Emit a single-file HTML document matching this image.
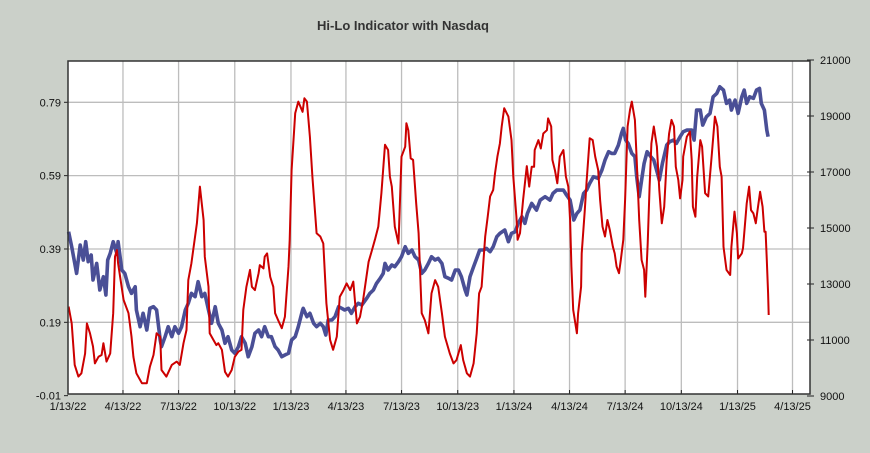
<!DOCTYPE html>
<html><head><meta charset="utf-8"><style>
html,body{margin:0;padding:0;background:#cbd0c9;}
svg{display:block;font-family:"Liberation Sans",sans-serif;}
</style></head><body>
<svg id="chart" width="870" height="453" viewBox="0 0 870 453" xmlns="http://www.w3.org/2000/svg">
<rect x="0" y="0" width="870" height="453" fill="#cbd0c9"/>
<text x="403" y="30" text-anchor="middle" font-size="13" font-weight="bold" fill="#333">Hi-Lo Indicator with Nasdaq</text>
<rect x="68" y="61" width="742" height="333" fill="#fff"/>
<g id="grid"></g><g id="series"></g><g id="axes"></g>
</svg>
<script>
const xTickLabels=["1/13/22","4/13/22","7/13/22","10/13/22","1/13/23","4/13/23","7/13/23","10/13/23","1/13/24","4/13/24","7/13/24","10/13/24","1/13/25","4/13/25"];
const xTickDays=[0,90,181,273,365,455,546,638,730,821,912,1004,1096,1186];
const leftTicks=[-0.01,0.19,0.39,0.59,0.79];
const rightTicks=[9000,11000,13000,15000,17000,19000,21000];
const redDays=[1,6,11,17,22,28,31,36,41,44,50,55,58,63,69,74,77,80,82,91,99,104,107,112,121,129,134,140,145,151,153,161,170,178,183,189,194,197,202,205,211,216,222,224,230,232,238,243,246,252,257,262,268,273,279,284,287,292,298,301,306,312,314,320,322,326,331,336,339,344,350,355,361,363,366,372,377,384,387,391,396,400,407,413,418,423,429,434,440,445,451,456,462,467,473,478,483,492,497,503,508,513,519,524,527,530,535,541,546,552,554,557,561,565,570,574,579,584,590,595,601,606,612,617,625,631,636,643,647,653,658,664,669,673,677,683,687,691,696,699,703,707,710,714,721,726,729,734,736,740,745,751,755,759,763,764,770,774,778,784,786,791,793,797,801,805,811,815,819,822,824,827,833,835,840,841,846,849,854,859,863,868,871,875,879,883,887,892,895,898,902,905,909,912,916,920,923,928,931,935,939,943,945,949,952,955,959,964,968,972,976,980,984,988,992,995,999,1002,1006,1007,1013,1018,1021,1023,1027,1030,1035,1038,1043,1048,1054,1059,1063,1067,1070,1073,1078,1084,1086,1091,1095,1097,1103,1105,1111,1115,1118,1122,1126,1128,1133,1137,1140,1142,1144,1146,1147];
const redValues=[0.233,0.187,0.074,0.042,0.051,0.105,0.187,0.160,0.124,0.078,0.096,0.101,0.133,0.083,0.105,0.215,0.369,0.387,0.351,0.251,0.215,0.151,0.096,0.051,0.024,0.024,0.069,0.101,0.160,0.151,0.060,0.042,0.074,0.083,0.074,0.133,0.169,0.305,0.351,0.387,0.460,0.560,0.469,0.369,0.287,0.160,0.142,0.128,0.133,0.115,0.055,0.042,0.060,0.096,0.110,0.115,0.224,0.287,0.333,0.287,0.278,0.324,0.346,0.337,0.369,0.378,0.314,0.287,0.215,0.196,0.174,0.205,0.342,0.415,0.605,0.760,0.792,0.764,0.801,0.792,0.696,0.587,0.433,0.424,0.405,0.242,0.142,0.115,0.151,0.260,0.278,0.296,0.278,0.301,0.187,0.205,0.251,0.355,0.383,0.419,0.451,0.542,0.674,0.660,0.587,0.560,0.451,0.405,0.642,0.669,0.733,0.714,0.637,0.633,0.514,0.433,0.215,0.196,0.160,0.269,0.305,0.287,0.215,0.151,0.105,0.078,0.087,0.128,0.087,0.051,0.042,0.078,0.160,0.269,0.287,0.424,0.478,0.533,0.551,0.596,0.642,0.678,0.724,0.774,0.751,0.687,0.587,0.478,0.415,0.433,0.524,0.616,0.560,0.614,0.614,0.660,0.687,0.664,0.705,0.714,0.746,0.724,0.633,0.605,0.569,0.642,0.660,0.587,0.560,0.469,0.342,0.224,0.160,0.215,0.287,0.378,0.496,0.574,0.692,0.687,0.642,0.605,0.524,0.451,0.424,0.469,0.442,0.396,0.378,0.342,0.324,0.360,0.415,0.524,0.724,0.769,0.792,0.742,0.633,0.469,0.360,0.333,0.260,0.405,0.560,0.678,0.724,0.669,0.551,0.460,0.505,0.633,0.705,0.742,0.724,0.614,0.578,0.528,0.578,0.642,0.696,0.710,0.633,0.505,0.478,0.587,0.687,0.669,0.542,0.533,0.651,0.751,0.724,0.614,0.587,0.396,0.333,0.319,0.396,0.492,0.433,0.364,0.378,0.392,0.514,0.560,0.496,0.487,0.460,0.487,0.546,0.505,0.437,0.437,0.360,0.269,0.210];
const blueDays=[1,6,14,20,25,29,33,38,41,47,52,58,62,65,69,74,80,82,88,93,99,104,110,112,118,123,129,134,140,145,151,153,159,164,170,175,181,186,192,197,202,208,213,219,224,230,235,241,246,252,257,262,268,273,279,284,290,295,301,306,312,317,322,328,333,339,344,350,355,361,366,372,377,384,385,391,396,402,407,413,418,422,426,432,437,443,448,453,459,464,470,475,481,489,494,500,505,511,516,519,524,530,535,541,546,552,557,563,568,574,579,584,590,595,601,606,612,617,623,628,634,639,644,650,653,658,664,669,674,680,685,691,696,702,707,715,721,726,732,737,743,748,752,759,767,773,781,789,794,800,811,816,822,828,833,838,844,849,854,860,868,874,879,885,890,895,901,906,909,913,917,923,928,931,935,939,943,948,954,959,965,968,973,980,985,991,996,1002,1007,1013,1021,1025,1029,1035,1039,1045,1051,1056,1062,1067,1073,1078,1083,1086,1092,1097,1103,1107,1111,1116,1122,1127,1132,1135,1140,1144,1146];
const blueValues=[14868,14332,13380,14392,13856,14511,13797,14035,13142,13737,12785,13261,12606,13856,14094,14511,14094,14511,13499,13380,12904,12666,12904,12071,11476,11952,11357,12131,12190,12071,11000,10762,11119,11476,11119,11476,11238,11476,12071,12309,12666,12547,13083,12547,12666,12071,11595,12190,11595,11357,10881,11119,10643,10524,10762,11119,10881,10405,10762,11238,11357,11119,11476,11119,11119,10762,10643,10405,10465,10524,11000,11119,11476,12071,12131,11833,11952,11595,11476,11595,11476,11179,11714,11714,11833,12190,12131,12071,12131,11952,12190,12309,12250,12488,12666,12785,13023,13202,13380,13737,13499,13678,13618,13797,13975,14332,14094,14213,13975,13856,13380,13499,13737,13975,13856,13915,13737,13261,13202,13142,13499,13499,13261,12785,12606,13261,13618,13916,14213,14213,14273,14154,14332,14689,14808,14927,14511,14808,14868,15165,15403,15165,15522,15879,15641,15998,16117,15998,16236,16355,16355,16177,15998,15284,15522,15641,16236,16355,16593,16831,16772,17069,17426,17724,17664,17664,17962,18378,18557,18140,18021,17664,17545,16831,16117,16712,17307,17724,17545,17426,16950,16712,17307,17962,18081,18140,18021,18259,18437,18497,18497,18140,19211,19211,18676,18973,19092,19687,19806,20044,19925,19449,19568,19211,19568,19092,19687,19925,19449,19687,19628,19925,19985,19449,19211,18497,18259];

const NS='http://www.w3.org/2000/svg';
const L=68,R=810,T=61,B=394;
function xScale(d){return 68+d*(724.5/1186);}
function yLeft(v){return 102.3+(0.79-v)*366.7;}
function yRight(v){return 340-(v-11000)*0.028;}
function mk(tag,attrs,parent){const e=document.createElementNS(NS,tag);for(const k in attrs)e.setAttribute(k,attrs[k]);parent.appendChild(e);return e;}
const grid=document.getElementById('grid'),series=document.getElementById('series'),axes=document.getElementById('axes');

xTickDays.forEach((d,i)=>{
  const x=xScale(d);
  if(i>0){const g=mk('line',{x1:x,x2:x,y1:T,y2:B,stroke:'#bdbdbd','stroke-width':1.3},grid);
  
  }
  const t=mk('line',{x1:x,x2:x,y1:B-4,y2:B,stroke:'#222','stroke-width':1},axes);
  
  
  const lb=mk('text',{x:x,y:410,'text-anchor':'middle','font-size':11,fill:'#111'},axes);
  lb.textContent=xTickLabels[i];
  
  
});
leftTicks.forEach(v=>{
  const y=yLeft(v);
  if(v>0){const g=mk('line',{x1:L,x2:R,y1:y,y2:y,stroke:'#bdbdbd','stroke-width':1.3},grid);
  
  }
  const t=mk('line',{x1:L-4,x2:L,y1:y,y2:y,stroke:'#222'},axes);
  
  
  const lb=mk('text',{x:61,y:y+4,'text-anchor':'end','font-size':11,fill:'#111'},axes);
  lb.textContent=v.toFixed(2);
  
  
});
rightTicks.forEach(v=>{
  const y=yRight(v);
  const t=mk('line',{x1:R-3,x2:R+4,y1:y,y2:y,stroke:'#222'},axes);
  
  
  const lb=mk('text',{x:820,y:y+4,'text-anchor':'start','font-size':11,fill:'#111'},axes);
  lb.textContent=String(v);
  
  
});
const frame=mk('rect',{x:L,y:T,width:R-L,height:B-T,fill:'none',stroke:'#333','stroke-width':1.5},axes);



const bp=blueDays.map((d,i)=>xScale(d).toFixed(1)+','+yRight(blueValues[i]).toFixed(1)).join(' ');
const bl=mk('polyline',{points:bp,fill:'none',stroke:'#4a4f96','stroke-width':3.6,'stroke-linejoin':'round'},series);


const rp=redDays.map((d,i)=>xScale(d).toFixed(1)+','+yLeft(redValues[i]).toFixed(1)).join(' ');
const rl=mk('polyline',{points:rp,fill:'none',stroke:'#cc0000','stroke-width':2,'stroke-linejoin':'round'},series);


</script>
</body></html>
